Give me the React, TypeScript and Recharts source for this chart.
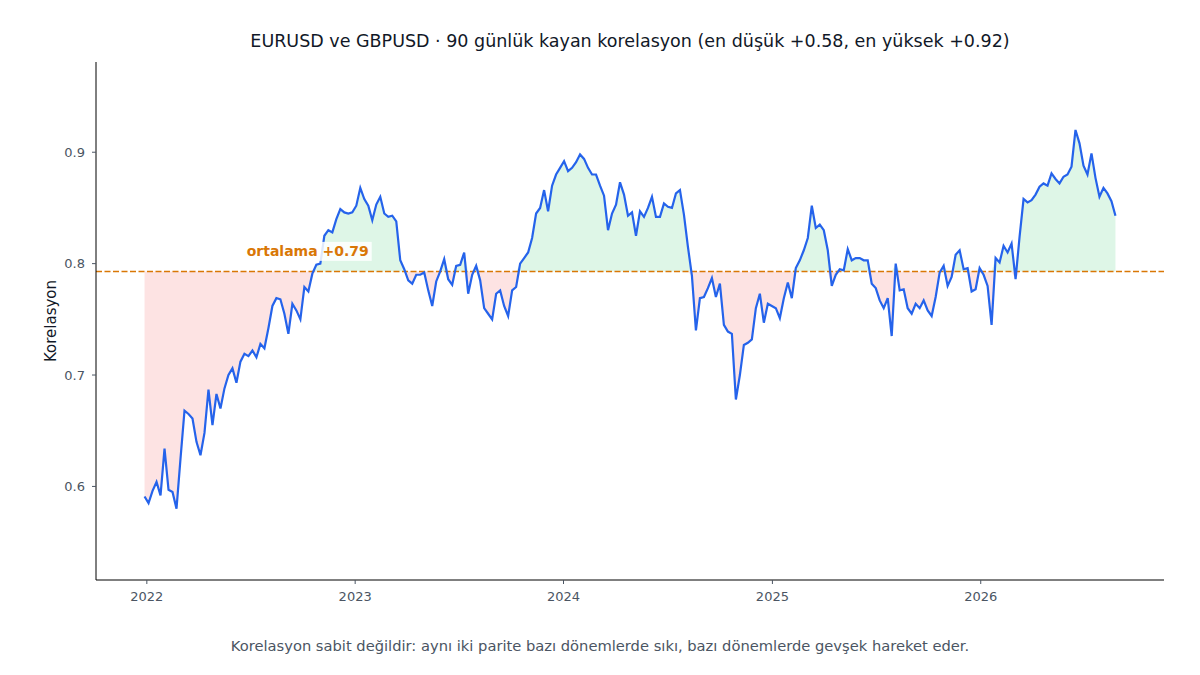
import React from 'react';
import {
  ComposedChart,
  Area,
  Line,
  XAxis,
  YAxis,
  ReferenceLine,
  ReferenceDot,
} from 'recharts';

// ─── EURUSD / GBPUSD rolling correlation ───────────────────────
// Weekly readings of the 90-day rolling correlation, mean line,
// green band above the mean and red band below it.

const START_DATE = '2021-12-28';
const STEP_DAYS = 7;

const CORR = [
  0.591, 0.585, 0.596, 0.604, 0.592, 0.634, 0.597, 0.595, 0.580, 0.625,
  0.668, 0.665, 0.661, 0.640, 0.628, 0.648, 0.687, 0.655, 0.683, 0.670,
  0.688, 0.700, 0.706, 0.693, 0.712, 0.719, 0.717, 0.722, 0.716, 0.728,
  0.724, 0.742, 0.762, 0.769, 0.768, 0.755, 0.737, 0.764, 0.758, 0.750,
  0.779, 0.775, 0.791, 0.799, 0.800, 0.825, 0.830, 0.828, 0.840, 0.849,
  0.846, 0.845, 0.846, 0.852, 0.868, 0.858, 0.852, 0.839, 0.853, 0.860,
  0.845, 0.842, 0.843, 0.838, 0.803, 0.795, 0.785, 0.782, 0.790, 0.790,
  0.792, 0.776, 0.762, 0.784, 0.793, 0.804, 0.786, 0.781, 0.798, 0.799,
  0.810, 0.773, 0.790, 0.798, 0.785, 0.760, 0.755, 0.750, 0.773, 0.776,
  0.762, 0.753, 0.776, 0.779, 0.800, 0.805, 0.810, 0.823, 0.845, 0.850,
  0.866, 0.847, 0.870, 0.880, 0.886, 0.892, 0.883, 0.886, 0.891, 0.898,
  0.894, 0.886, 0.880, 0.880, 0.870, 0.861, 0.830, 0.845, 0.853, 0.873,
  0.862, 0.843, 0.846, 0.825, 0.847, 0.842, 0.850, 0.860, 0.842, 0.842,
  0.854, 0.851, 0.850, 0.863, 0.866, 0.844, 0.815, 0.789, 0.740, 0.769,
  0.770, 0.778, 0.787, 0.770, 0.782, 0.745, 0.739, 0.737, 0.678, 0.700,
  0.727, 0.729, 0.732, 0.760, 0.773, 0.747, 0.764, 0.762, 0.760, 0.751,
  0.769, 0.783, 0.769, 0.796, 0.803, 0.812, 0.823, 0.852, 0.832, 0.835,
  0.830, 0.812, 0.780, 0.790, 0.795, 0.794, 0.813, 0.803, 0.805, 0.805,
  0.803, 0.803, 0.782, 0.778, 0.767, 0.760, 0.769, 0.735, 0.800, 0.776,
  0.777, 0.760, 0.755, 0.764, 0.760, 0.767, 0.758, 0.753, 0.770, 0.792,
  0.798, 0.780, 0.788, 0.808, 0.812, 0.795, 0.796, 0.775, 0.777, 0.796,
  0.790, 0.780, 0.745, 0.805, 0.801, 0.816, 0.810, 0.818, 0.786, 0.824,
  0.858, 0.855, 0.857, 0.862, 0.869, 0.872, 0.870, 0.881, 0.876, 0.872,
  0.878, 0.880, 0.887, 0.920, 0.908, 0.888, 0.880, 0.899, 0.877, 0.860,
  0.868, 0.863, 0.856, 0.843,
];

const MEAN = 0.793;
const MEAN_LABEL = 'ortalama +0.79';
const LABEL_DATE = '2022-06-25';
const LABEL_VALUE = 0.811;

const YEAR_TICKS = [2022, 2023, 2024, 2025, 2026];
const Y_TICKS = [0.6, 0.7, 0.8, 0.9];
const Y_DOMAIN = [0.516, 0.981];

const TITLE = 'EURUSD ve GBPUSD · 90 günlük kayan korelasyon (en düşük +0.58, en yüksek +0.92)';
const CAPTION = 'Korelasyon sabit değildir: aynı iki parite bazı dönemlerde sıkı, bazı dönemlerde gevşek hareket eder.';

const DAY = 86400000;
const t0 = Date.parse(START_DATE);

const data = CORR.map((v, i) => ({
  t: t0 + i * STEP_DAYS * DAY,
  v,
  up: [MEAN, Math.max(v, MEAN)],
  down: [Math.min(v, MEAN), MEAN],
}));

const tEnd = data[data.length - 1].t;
const pad = (tEnd - t0) * 0.05;
const xDomain = [t0 - pad, tEnd + pad];
const xTicks = YEAR_TICKS.map((y) => Date.UTC(y, 0, 1));

const FONT = '"DejaVu Sans", Verdana, sans-serif';

const MeanTag = (props: any) => {
  const vb = props.viewBox || {};
  const x = (vb.x ?? 0) + (vb.width ?? 0) / 2;
  const y = (vb.y ?? 0) + (vb.height ?? 0) / 2;
  return (
    <g>
      <rect x={x - 3} y={y - 9.5} width={128} height={19} fill="#ffffff" fillOpacity={0.85} />
      <text
        x={x}
        y={y + 5}
        fill="#d97706"
        fontSize={14}
        fontWeight="bold"
        fontFamily={FONT}
      >
        {MEAN_LABEL}
      </text>
    </g>
  );
};

export default function App() {
  return (
    <div
      style={{
        position: 'absolute',
        left: 0,
        top: 0,
        width: 1200,
        height: 675,
        background: '#ffffff',
        fontFamily: FONT,
      }}
    >
      <div
        style={{
          position: 'absolute',
          left: 96,
          width: 1068,
          top: 30,
          textAlign: 'center',
          fontSize: 17.5,
          color: '#111827',
          lineHeight: '22px',
          whiteSpace: 'nowrap',
        }}
      >
        {TITLE}
      </div>

      <div
        style={{
          position: 'absolute',
          left: 36,
          top: 311,
          width: 30,
          height: 20,
          transform: 'rotate(-90deg)',
          display: 'flex',
          justifyContent: 'center',
          alignItems: 'center',
          fontSize: 15,
          color: '#111827',
          whiteSpace: 'nowrap',
        }}
      >
        Korelasyon
      </div>

      <ComposedChart
        width={1200}
        height={675}
        data={data}
        margin={{ top: 62, right: 36, bottom: 65, left: 46 }}
      >
        <XAxis
          dataKey="t"
          type="number"
          scale="linear"
          domain={xDomain}
          ticks={xTicks}
          allowDataOverflow
          tickFormatter={(t) => String(new Date(t).getUTCFullYear())}
          height={30}
          tickSize={4}
          tickMargin={8}
          axisLine={{ stroke: '#000000', strokeWidth: 1 }}
          tickLine={{ stroke: '#4b5563' }}
          tick={{ fill: '#4b5563', fontSize: 13, fontFamily: FONT }}
        />
        <YAxis
          type="number"
          domain={Y_DOMAIN}
          ticks={Y_TICKS}
          allowDataOverflow
          tickFormatter={(v) => v.toFixed(1)}
          width={50}
          tickSize={4}
          tickMargin={7}
          axisLine={{ stroke: '#000000', strokeWidth: 1 }}
          tickLine={{ stroke: '#4b5563' }}
          tick={{ fill: '#4b5563', fontSize: 13, fontFamily: FONT }}
        />
        <Area
          type="linear"
          dataKey="up"
          stroke="none"
          fill="#22c55e"
          fillOpacity={0.15}
          isAnimationActive={false}
        />
        <Area
          type="linear"
          dataKey="down"
          stroke="none"
          fill="#ef4444"
          fillOpacity={0.15}
          isAnimationActive={false}
        />
        <ReferenceLine
          y={MEAN}
          stroke="#d97706"
          strokeWidth={1.6}
          strokeDasharray="6 2.5"
        />
        <Line
          type="linear"
          dataKey="v"
          stroke="#2563eb"
          strokeWidth={2.2}
          dot={false}
          isAnimationActive={false}
        />
        <ReferenceDot
          x={Date.parse(LABEL_DATE)}
          y={LABEL_VALUE}
          r={0}
          fill="none"
          stroke="none"
          label={<MeanTag />}
        />
      </ComposedChart>

      <div
        style={{
          position: 'absolute',
          left: 0,
          width: 1200,
          top: 636,
          textAlign: 'center',
          fontSize: 14.7,
          color: '#4b5563',
          lineHeight: '20px',
          whiteSpace: 'nowrap',
        }}
      >
        {CAPTION}
      </div>
    </div>
  );
}
